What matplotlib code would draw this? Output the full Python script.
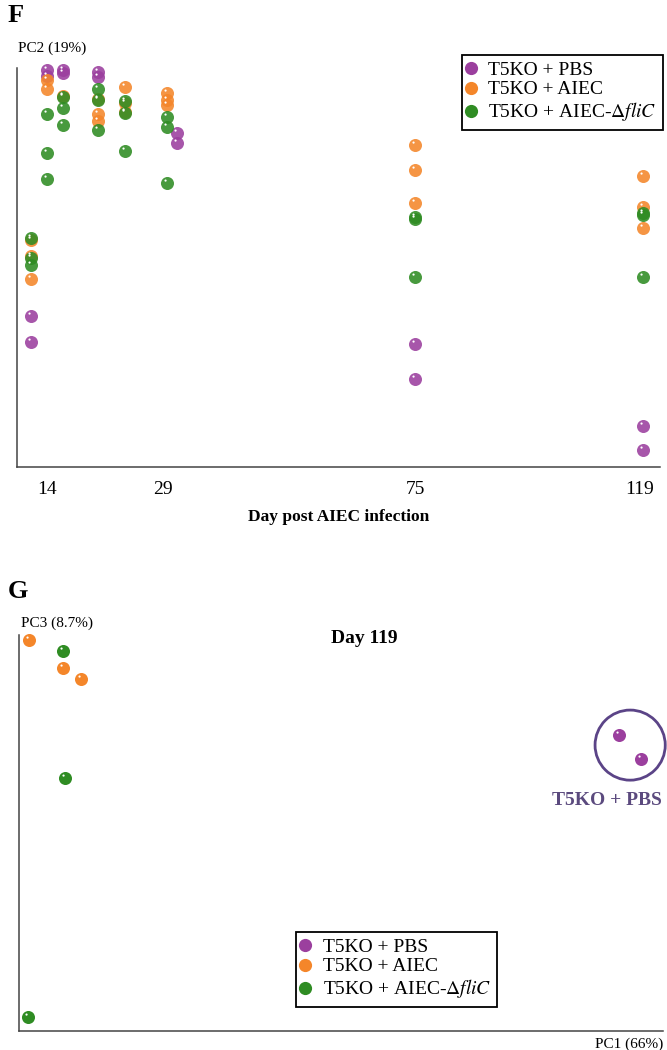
# -*- coding: utf-8 -*-
"""
PCoA panels F and G (T5KO mice, AIEC infection)
"""
#%% Imports

import matplotlib
matplotlib.use('Agg')
import matplotlib.pyplot as plt
import numpy as np
from matplotlib.path import Path
from matplotlib.lines import Line2D
from matplotlib.patches import Ellipse
from matplotlib.legend_handler import HandlerTuple

plt.rcParams['font.family'] = ['Liberation Serif', 'DejaVu Serif']
plt.rcParams['mathtext.fontset'] = 'stix'

#%% Data

groups = ['T5KO + PBS', 'T5KO + AIEC', r'T5KO + AIEC-$\Delta\mathit{fliC}$']
colors = ['#9b3f9e', '#f4862a', '#2f8c23']

# panel F: PC2 score vs sampling position (day columns, spread side by side)
day_labels = ['14', '29', '75', '119']
day_pos = [30, 146, 398, 623]

pbs_x = [14, 14, 30, 30, 46, 46, 81, 81, 160, 160, 398, 398, 626, 626]
pbs_y = [37.9, 31.4, 99.5, 98.0, 99.5, 98.7, 99.0, 97.7, 83.7, 81.2, 30.9, 21.9, 10.3, 4.3]

aiec_x = [14, 14, 14, 30, 30, 46, 81, 81, 81, 108, 108, 108, 150, 150, 150,
          398, 398, 398, 626, 626, 626]
aiec_y = [56.8, 52.8, 47.0, 97.0, 94.7, 93.0, 92.2, 88.4, 86.7, 95.2, 91.2, 88.9,
          93.7, 92.0, 90.7, 80.7, 74.4, 66.1, 72.9, 65.1, 59.8]

flic_x = [14, 14, 14, 30, 30, 30, 46, 46, 46, 81, 81, 81, 108, 108, 108,
          150, 150, 150, 398, 398, 398, 626, 626, 626]
flic_y = [57.3, 52.3, 50.5, 88.4, 78.6, 72.1, 92.7, 89.9, 85.7, 94.7, 92.0, 84.4,
          91.7, 88.7, 79.1, 87.7, 85.2, 71.1, 62.6, 62.1, 47.5, 63.6, 63.1, 47.5]

# panel G: day 119, PC1 vs PC3
pbs_pc1 = [93.2, 96.6]
pbs_pc3 = [74.7, 68.7]
aiec_pc1 = [1.6, 6.8, 9.6]
aiec_pc3 = [98.7, 91.7, 88.9]
flic_pc1 = [6.8, 7.1, 1.4]
flic_pc3 = [96.0, 63.9, 3.6]

#%% little white glint marker (offset circle inside unit circle)

t = np.linspace(0, 2*np.pi, 30)
verts = np.column_stack([-0.3 + 0.17*np.cos(t), 0.45 + 0.17*np.sin(t)])
verts = np.vstack([[1.0, 1.0], verts])
codes = [Path.MOVETO, Path.MOVETO] + [Path.LINETO]*(len(t)-2) + [Path.CLOSEPOLY]
glint = Path(verts, codes)

S = 88


def balls(ax, x, y, c, alpha=0.88):
    ax.scatter(x, y, s=S, color=c, alpha=alpha, linewidths=0, clip_on=False, zorder=3)
    ax.scatter(x, y, s=S, marker=glint, color='white', linewidths=0,
               clip_on=False, zorder=4)


def make_legend(fig, anchor, loc):
    handles = []
    for c in colors:
        h1 = Line2D([], [], ls='', marker='o', ms=9.5, color=c, mew=0)
        h2 = Line2D([], [], ls='', marker=glint, ms=9.5, color='white', mew=0)
        handles.append((h1, h2))
    leg = fig.legend(handles, groups, loc=loc, bbox_to_anchor=anchor,
                     handler_map={tuple: HandlerTuple(ndivide=None)},
                     fontsize=14, frameon=True, fancybox=False, framealpha=1,
                     edgecolor='black', handlelength=0.9, handletextpad=0.15,
                     labelspacing=0.1, borderpad=0.32, borderaxespad=0)
    leg.get_frame().set_linewidth(1.3)
    return leg


fig = plt.figure(figsize=(6.67, 10.5), dpi=100)

#%% Panel F

axF = fig.add_axes([0.0255, 0.5555, 0.964, 0.3797])
balls(axF, pbs_x, pbs_y, colors[0])
balls(axF, aiec_x, aiec_y, colors[1])
balls(axF, flic_x, flic_y, colors[2])

axF.set_xlim(0, 643)
axF.set_ylim(0, 100)
axF.set_xticks(day_pos)
axF.set_xticklabels(day_labels, fontsize=14)
axF.set_yticks([])
axF.tick_params(axis='x', length=0, pad=10)
for s in ['top', 'right']:
    axF.spines[s].set_visible(False)
for s in ['left', 'bottom']:
    axF.spines[s].set_color('#444444')
    axF.spines[s].set_linewidth(1.1)
axF.set_xlabel('Day post AIEC infection', fontsize=12.5, fontweight='bold', labelpad=8)

fig.text(18/667, 1 - 48/1050, 'PC2 (19%)', fontsize=11, ha='left', va='center')
fig.text(8/667, 1 - 16/1050, 'F', fontsize=19, fontweight='bold', ha='left', va='center')
make_legend(fig, (663/667, 1 - 55/1050), 'upper right')

#%% Panel G

axG = fig.add_axes([0.0285, 0.0181, 0.9655, 0.3771])
balls(axG, pbs_pc1, pbs_pc3, colors[0], alpha=1)
balls(axG, aiec_pc1, aiec_pc3, colors[1], alpha=1)
balls(axG, flic_pc1, flic_pc3, colors[2], alpha=1)

axG.add_patch(Ellipse((94.9, 72.2), width=10.9, height=17.7, fill=False,
                      edgecolor='#5b4487', linewidth=2.0, clip_on=False))
axG.text(91.3, 58.3, 'T5KO + PBS', color='#5b4a7e', fontsize=14,
         fontweight='bold', ha='center', va='center')
axG.text(0.536, 0.99, 'Day 119', transform=axG.transAxes, fontsize=14,
         fontweight='bold', ha='center', va='center')

axG.set_xlim(0, 100)
axG.set_ylim(0, 100)
axG.set_xticks([])
axG.set_yticks([])
for s in ['top', 'right']:
    axG.spines[s].set_visible(False)
for s in ['left', 'bottom']:
    axG.spines[s].set_color('#444444')
    axG.spines[s].set_linewidth(1.1)

fig.text(21/667, 1 - 623/1050, 'PC3 (8.7%)', fontsize=11, ha='left', va='center')
fig.text(663/667, 1 - 1044/1050, 'PC1 (66%)', fontsize=11, ha='right', va='center')
fig.text(8/667, 1 - 592/1050, 'G', fontsize=19, fontweight='bold', ha='left', va='center')
make_legend(fig, (296/667, 1 - 932/1050), 'upper left')

fig.savefig('out.png', dpi=100, facecolor='white')
